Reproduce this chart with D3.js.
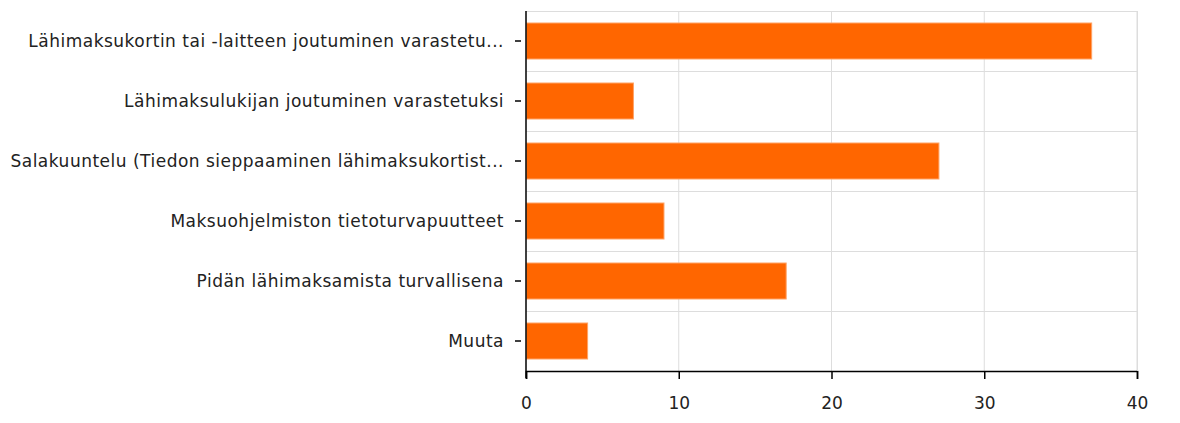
<!DOCTYPE html>
<html>
<head>
<meta charset="utf-8">
<script src="https://cdn.jsdelivr.net/npm/d3@7"></script>
<style>
  body { margin: 0; background: #fff; }
  text { font-family: "DejaVu Sans", Verdana, sans-serif; fill: #222; }
</style>
</head>
<body>
<svg id="chart" width="1180" height="423"></svg>
<script>
const categories = [
  "Lähimaksukortin tai -laitteen joutuminen varastetu...",
  "Lähimaksulukijan joutuminen varastetuksi",
  "Salakuuntelu (Tiedon sieppaaminen lähimaksukortist...",
  "Maksuohjelmiston tietoturvapuutteet",
  "Pidän lähimaksamista turvallisena",
  "Muuta"
];
const values = [37, 7, 27, 9, 17, 4];
const xTicks = [0, 10, 20, 30, 40];

const margin = {top: 11, right: 43, bottom: 52, left: 526};
const width = 1180, height = 423;
const chartWidth = width - margin.left - margin.right;
const chartHeight = height - margin.top - margin.bottom;

const svg = d3.select("#chart");
const g = svg.append("g")
    .attr("transform", `translate(${margin.left},${margin.top})`);

const x = d3.scaleLinear().domain([0, 40]).range([0, chartWidth]);
const y = d3.scaleBand().domain(categories).range([0, chartHeight]).paddingInner(0.4).paddingOuter(0.2);

// grid: vertical at ticks, horizontal at band boundaries
g.selectAll(".vgrid")
    .data(xTicks.slice(1))
    .enter().append("line")
    .attr("x1", d => x(d)).attr("x2", d => x(d))
    .attr("y1", 0).attr("y2", chartHeight)
    .attr("stroke", "#ddd").attr("stroke-width", 1);

const step = y.step();
const bounds = categories.map((c, i) => y(c) - step * 0.2);
g.selectAll(".hgrid")
    .data(bounds)
    .enter().append("line")
    .attr("x1", 0).attr("x2", chartWidth)
    .attr("y1", d => Math.round(d) + 0.5).attr("y2", d => Math.round(d) + 0.5)
    .attr("stroke", "#ddd").attr("stroke-width", 1);

// bars
g.selectAll(".bar")
    .data(values)
    .enter().append("rect")
    .attr("x", 0.5)
    .attr("y", (d, i) => y(categories[i]))
    .attr("width", d => x(d))
    .attr("height", y.bandwidth())
    .attr("fill", "#ff6600")
    .attr("stroke", "#ffa366")
    .attr("stroke-width", 1);

// axes
const xAxis = d3.axisBottom(x).tickValues(xTicks).tickSize(8).tickPadding(18);
const gx = g.append("g")
    .attr("transform", `translate(0,${chartHeight})`)
    .call(xAxis);
gx.select(".domain").attr("stroke", "#000").attr("stroke-width", 1.5);
gx.selectAll(".tick line").attr("stroke", "#000").attr("stroke-width", 1.5);
gx.selectAll("text").style("font-size", "17px");

const yAxis = d3.axisLeft(y).tickSize(0).tickPadding(22);
const gy = g.append("g").call(yAxis);
gy.select(".domain").attr("stroke", "#000").attr("stroke-width", 1.5)
    .attr("d", `M0,0V${chartHeight + 7}`);
gy.selectAll(".tick").append("line")
    .attr("x1", -11).attr("x2", -5)
    .attr("stroke", "#000").attr("stroke-width", 1.5);
gy.selectAll("text").style("font-size", "17px").style("letter-spacing", "0.5px")
    .attr("dy", "0.35em");
gx.attr("font-family", null);
gy.attr("font-family", null);

// right border
g.append("line")
    .attr("x1", chartWidth + 0.5).attr("x2", chartWidth + 0.5)
    .attr("y1", 0).attr("y2", chartHeight)
    .attr("stroke", "#ddd");
</script>
</body>
</html>
